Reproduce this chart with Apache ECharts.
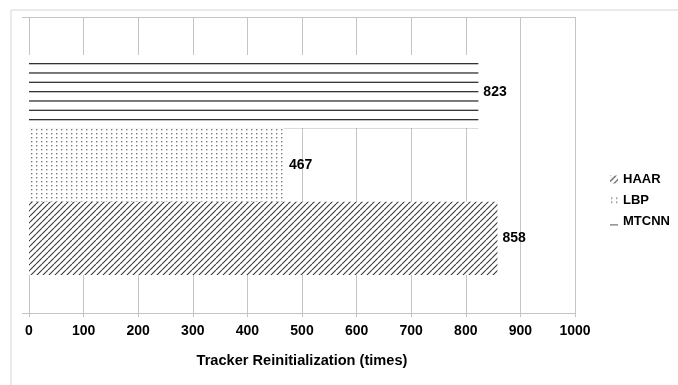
<!DOCTYPE html>
<html>
<head>
<meta charset="utf-8">
<script src="https://cdn.jsdelivr.net/npm/echarts@6/dist/echarts.min.js"></script>
<style>
  html, body { margin: 0; padding: 0; background: #fff; }
  #chart { width: 678px; height: 385px; }
</style>
</head>
<body>
<div id="chart"></div>
<script>
// Detector comparison: number of tracker reinitializations
const categories = [''];
const seriesNames = ['HAAR', 'LBP', 'MTCNN'];
const haarValues = [858];
const lbpValues = [467];
const mtcnnValues = [823];
const xTicks = [0, 100, 200, 300, 400, 500, 600, 700, 800, 900, 1000];

const FONT = '"Liberation Sans", Arial, sans-serif';

// Fill patterns (white ground with dark strokes)
function makeTile(w, h, draw) {
  const c = document.createElement('canvas');
  c.width = w; c.height = h;
  const ctx = c.getContext('2d');
  ctx.fillStyle = '#ffffff';
  ctx.fillRect(0, 0, w, h);
  draw(ctx, w, h);
  return { image: c, repeat: 'repeat' };
}

// diagonal hatch "/"
const hatchPattern = makeTile(6, 6, (ctx, w, h) => {
  ctx.strokeStyle = '#3a3a3a';
  ctx.lineWidth = 1.1;
  ctx.beginPath();
  for (let k = -1; k <= 1; k++) {
    ctx.moveTo(k * w, h);
    ctx.lineTo(k * w + w, 0);
  }
  ctx.stroke();
});

// fine dots
const dotPattern = makeTile(5, 4, (ctx) => {
  ctx.fillStyle = '#7a7a7a';
  ctx.fillRect(1, 1, 1.4, 1.4);
});

// horizontal rules
const rulePattern = makeTile(8, 28, (ctx, w) => {
  ctx.fillStyle = '#333333';
  [7.65, 16.98, 26.31].forEach(y => ctx.fillRect(0, y - 0.65, w, 1.3));
});

const byName = {
  HAAR: { values: haarValues, color: hatchPattern },
  LBP: { values: lbpValues, color: dotPattern },
  MTCNN: { values: mtcnnValues, color: rulePattern }
};

// horizontal bars stack upward from the first series, so list them top-down
const drawOrder = ['MTCNN', 'LBP', 'HAAR'];

const chart = echarts.init(document.getElementById('chart'), null, { renderer: 'canvas' });

const gridColor = '#c4c4c4';

chart.setOption({
  animation: false,
  backgroundColor: '#ffffff',
  graphic: [{
    type: 'rect',
    shape: { x: 11, y: 10, width: 720, height: 420 },
    style: { fill: 'none', stroke: '#d6d6d6', lineWidth: 1 },
    silent: true,
    z: -10
  }],
  grid: { left: 29, right: 103, top: 17, bottom: 72, containLabel: false },
  legend: {
    orient: 'vertical',
    left: 605,
    top: 168,
    itemWidth: 8,
    itemHeight: 8,
    itemGap: 8,
    icon: 'rect',
    textStyle: { fontFamily: FONT, fontSize: 13, fontWeight: 'bold', color: '#000' },
    data: seriesNames
  },
  xAxis: {
    type: 'value',
    min: 0,
    max: 1000,
    interval: 100,
    name: 'Tracker Reinitialization (times)',
    nameLocation: 'middle',
    nameGap: 40,
    nameTextStyle: { fontFamily: FONT, fontSize: 14.6, fontWeight: 'bold', color: '#000' },
    axisLine: { show: true, lineStyle: { color: gridColor, width: 1 } },
    axisTick: { show: true, length: 4, lineStyle: { color: gridColor } },
    axisLabel: {
      margin: 11,
      fontFamily: FONT, fontSize: 14, fontWeight: 'bold', color: '#000',
      formatter: v => (xTicks.indexOf(v) >= 0 ? String(v) : '')
    },
    splitLine: { show: true, lineStyle: { color: gridColor, width: 1 } }
  },
  yAxis: {
    type: 'category',
    data: categories,
    axisLine: { show: false },
    axisTick: { show: true, length: 7, lineStyle: { color: gridColor } },
    axisLabel: { show: false },
    splitLine: { show: true, lineStyle: { color: gridColor, width: 1 } }
  },
  series: drawOrder.map(name => ({
    name: name,
    type: 'bar',
    data: byName[name].values,
    barGap: '0%',
    barCategoryGap: '25.7%',
    itemStyle: { color: byName[name].color },
    label: {
      show: true,
      position: 'right',
      distance: 5,
      fontFamily: FONT, fontSize: 14, fontWeight: 'bold', color: '#000'
    }
  }))
});
</script>
</body>
</html>
